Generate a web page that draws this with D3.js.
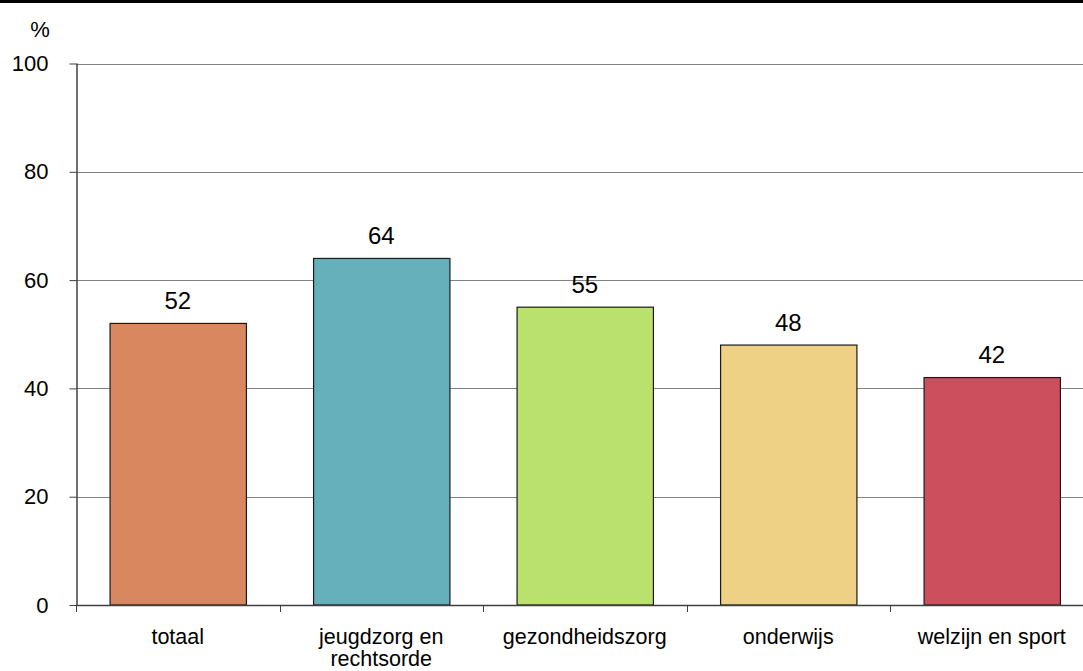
<!DOCTYPE html>
<html><head><meta charset="utf-8">
<script src="https://cdn.jsdelivr.net/npm/d3@7"></script>
<style>body{margin:0;background:#fff;} svg{display:block;font-family:"Liberation Sans",Arial,sans-serif;}</style>
</head><body>
<svg id="c" width="1083" height="671"></svg>
<script>
const categories = [["totaal"], ["jeugdzorg en", "rechtsorde"], ["gezondheidszorg"], ["onderwijs"], ["welzijn en sport"]];
const values = [52, 64, 55, 48, 42];
const colors = ["#D9875E", "#66B0BC", "#BAE06E", "#EFD185", "#CB4F5C"];
const yTicks = [0, 20, 40, 60, 80, 100];

const svg = d3.select("#c");
const m = {left: 76, top: 63.5, bottom: 605, right: 1093.5};
const x = d3.scaleBand().domain(d3.range(categories.length)).range([m.left, m.right]).paddingInner(0.33).paddingOuter(0.165);
const xStep = d3.scaleBand().domain(d3.range(categories.length)).range([m.left, m.right]);
const y = d3.scaleLinear().domain([0, 100]).range([m.bottom, m.top]);

// top border
svg.append("rect").attr("x", 0).attr("y", 0).attr("width", 1083).attr("height", 3).attr("fill", "#000");

// gridlines
svg.append("g").selectAll("line").data(yTicks.filter(d => d > 0)).join("line")
  .attr("x1", m.left).attr("x2", m.right)
  .attr("y1", d => Math.round(y(d)) + 0.5).attr("y2", d => Math.round(y(d)) + 0.5)
  .attr("stroke", "#808080").attr("stroke-width", 1);

// y axis
const yAxis = d3.axisLeft(y).tickValues(yTicks).tickSize(7).tickPadding(21);
const gy = svg.append("g").attr("transform", `translate(${m.left + 0.5},0)`).call(yAxis);
gy.select(".domain").attr("stroke", "#404040").attr("d", `M0.5,${m.top}V${m.bottom}`).attr("stroke-width", 1.5);
gy.selectAll(".tick line").attr("stroke", "#404040");
gy.selectAll(".tick text").attr("font-size", 22).attr("fill", "#000").attr("font-family", '"Liberation Sans",Arial,sans-serif');

// bars
svg.append("g").selectAll("rect").data(values).join("rect")
  .attr("x", (d, i) => x(i) + 0.5).attr("width", x.bandwidth())
  .attr("y", d => y(d)).attr("height", d => y(0) - y(d))
  .attr("fill", (d, i) => colors[i]).attr("stroke", "#1a1a1a").attr("stroke-width", 1.2);

// x axis
svg.append("line").attr("x1", m.left).attr("x2", m.right).attr("y1", m.bottom + 0.5).attr("y2", m.bottom + 0.5)
  .attr("stroke", "#404040").attr("stroke-width", 1.5);
svg.append("g").selectAll("line").data(d3.range(categories.length + 1)).join("line")
  .attr("x1", i => Math.round(m.left + i * xStep.step()) + 0.5).attr("x2", i => Math.round(m.left + i * xStep.step()) + 0.5)
  .attr("y1", m.bottom).attr("y2", m.bottom + 7).attr("stroke", "#404040");

// category labels
const cl = svg.append("g").selectAll("text").data(categories).join("text")
  .attr("x", (d, i) => xStep(i) + xStep.bandwidth() / 2).attr("y", 644)
  .attr("text-anchor", "middle").attr("font-size", 21.5).attr("fill", "#000");
cl.selectAll("tspan").data(d => d).join("tspan")
  .attr("x", function() { return this.parentNode.getAttribute("x"); })
  .attr("dy", (d, i) => i === 0 ? 0 : 22).text(d => d);

// value labels
svg.append("g").selectAll("text").data(values).join("text")
  .attr("x", (d, i) => x(i) + x.bandwidth() / 2).attr("y", d => y(d) - 14.5)
  .attr("text-anchor", "middle").attr("font-size", 24).attr("fill", "#000").text(d => d);

// unit
svg.append("text").attr("x", 40).attr("y", 37).attr("text-anchor", "middle").attr("font-size", 22).text("%");
</script>
</body></html>
